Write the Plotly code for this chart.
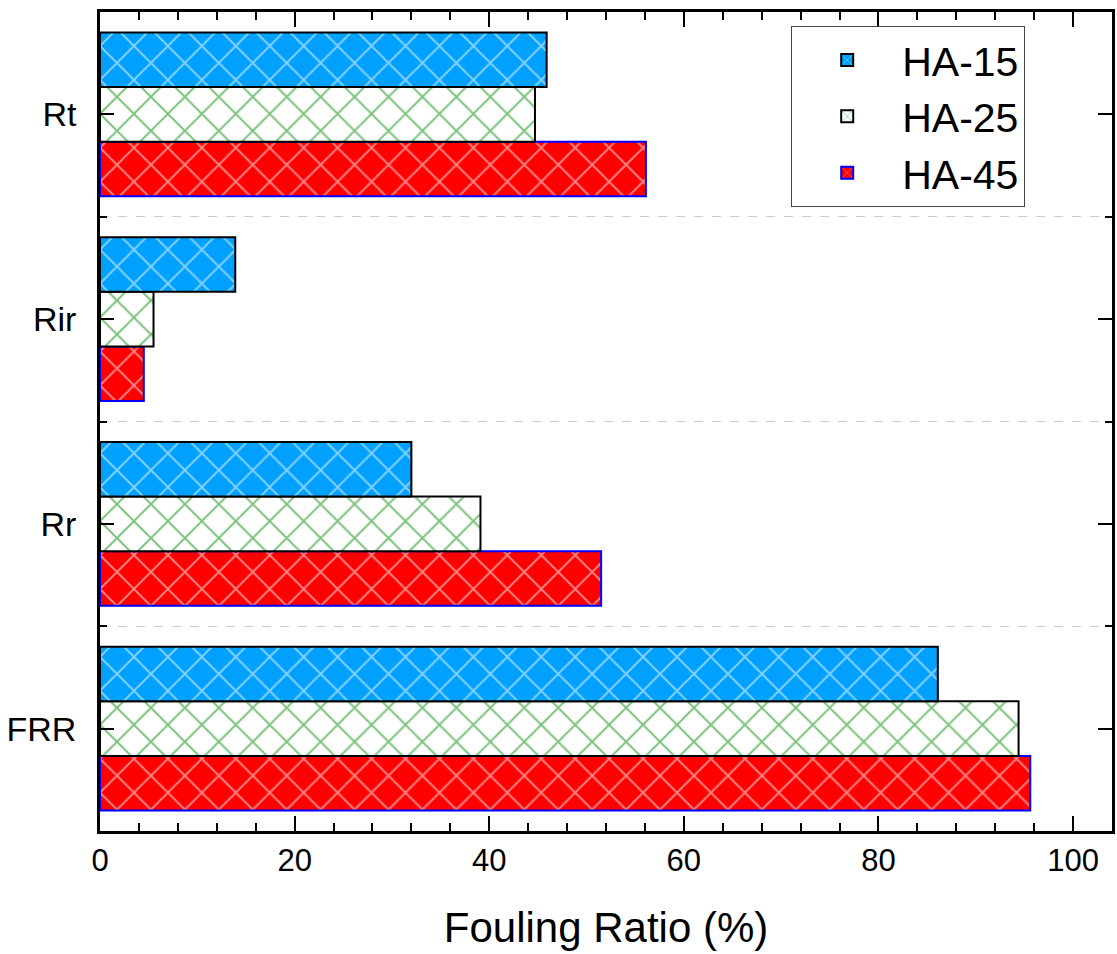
import plotly.graph_objects as go

categories = ["FRR", "Rr", "Rir", "Rt"]
series_names = ["HA-15", "HA-25", "HA-45"]
ha15 = [86.1, 32.0, 13.9, 45.9]
ha25 = [94.4, 39.1, 5.5, 44.7]
ha45 = [95.6, 51.5, 4.5, 56.1]
x_ticks = [0, 20, 40, 60, 80, 100]

FONT = "Liberation Sans, Arial, sans-serif"

styles = {
    "HA-15": dict(bg="#00A0FF", fg="white", line="black"),
    "HA-25": dict(bg="white", fg="#008800", line="black"),
    "HA-45": dict(bg="#FF0000", fg="white", line="#0000FF"),
}
values = {"HA-15": ha15, "HA-25": ha25, "HA-45": ha45}

fig = go.Figure()
# add in reverse so HA-15 is on top within each group
for name in reversed(series_names):
    s = styles[name]
    fig.add_trace(go.Bar(
        x=values[name], y=categories, orientation="h", name=name,
        marker=dict(color=s["bg"], line=dict(color=s["line"], width=2),
                    pattern=dict(shape="x", fgcolor=s["fg"], bgcolor=s["bg"],
                                 size=24, solidity=0.16, fillmode="overlay")),
    ))

# invisible helper trace for boundary ticks/grid axis
fig.add_trace(go.Scatter(x=[0] * len(categories), y=categories, yaxis="y2",
                         mode="markers", marker=dict(opacity=0),
                         showlegend=False, hoverinfo="skip"))

fig.update_layout(
    width=1117, height=954,
    margin=dict(l=100, r=2, t=12, b=123),
    plot_bgcolor="white", paper_bgcolor="white",
    font=dict(family=FONT, color="black"),
    barmode="group", bargap=0.2, bargroupgap=0,
    xaxis=dict(range=[0, 104], tickvals=x_ticks, ticks="inside", ticklen=15,
               tickwidth=2, tickcolor="black", showline=True, linewidth=2.5,
               linecolor="black", mirror="ticks", showgrid=False, zeroline=False,
               tickfont=dict(size=31),
               minor=dict(dtick=4, ticks="inside", ticklen=8, tickwidth=2,
                          tickcolor="black", showgrid=False),
               title=dict(text="Fouling Ratio (%)", font=dict(size=42), standoff=36)),
    yaxis=dict(type="category", categoryorder="array", categoryarray=categories,
               range=[-0.5, 3.5], ticks="inside", ticklen=14, tickwidth=2,
               tickcolor="black", showline=True, linewidth=2.5, linecolor="black",
               mirror="ticks", showgrid=False, tickfont=dict(size=34),
               ticklabelstandoff=14),
    yaxis2=dict(type="category", categoryorder="array", categoryarray=categories,
                range=[-0.5, 3.5], overlaying="y", side="left",
                tickson="boundaries", ticks="inside", ticklen=7, tickwidth=2,
                tickcolor="black", showticklabels=False, mirror="ticks",
                showline=False, showgrid=True, gridcolor="#cccccc",
                griddash="dash", gridwidth=1),
    legend=dict(x=0.683, y=0.983, xanchor="left", yanchor="top",
                traceorder="reversed", font=dict(size=41),
                bordercolor="#444444", borderwidth=1, bgcolor="white",
                itemwidth=100, tracegroupgap=0),
    showlegend=True,
)

fig.write_html("out.html", config={"displayModeBar": False},
               post_script="document.body.style.margin='0';")
